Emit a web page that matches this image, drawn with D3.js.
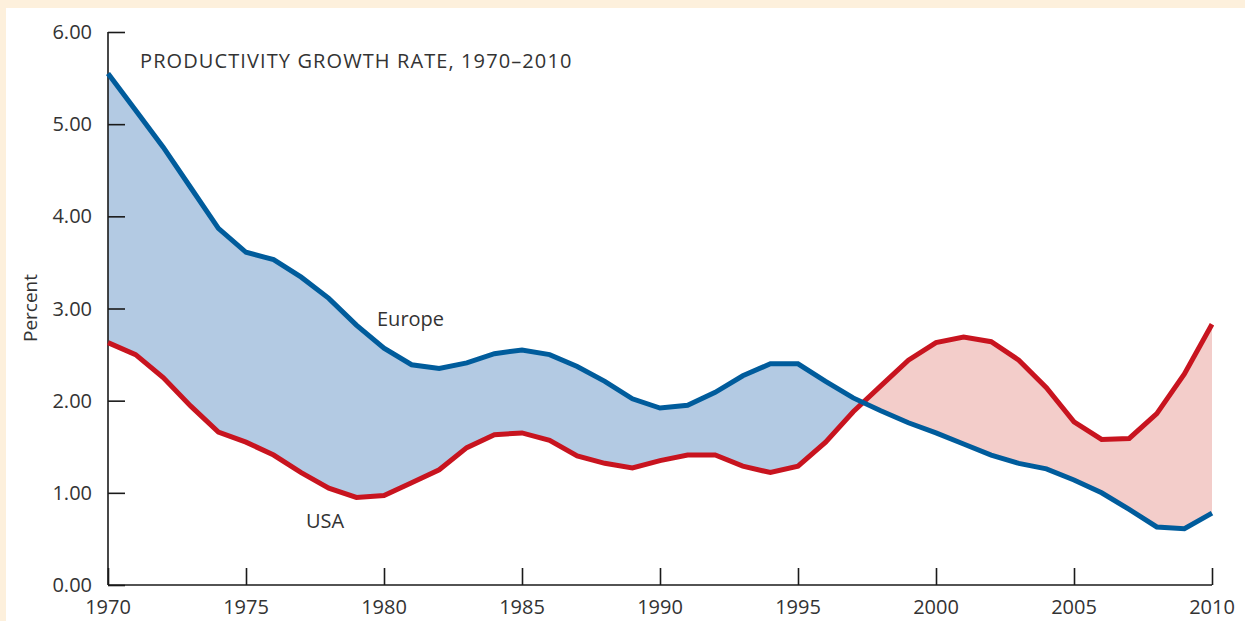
<!DOCTYPE html>
<html lang="en">
<head>
    <meta charset="UTF-8">
    <title>Productivity Growth Rate</title>
    <script src="https://d3js.org/d3.v7.min.js"></script>
    <style>
        body { margin: 0; background: #fdf0dc; }
        svg { display: block; }
        text { font-family: "Open Sans", Lato, sans-serif; font-weight: 400; fill: #333333; }
    </style>
</head>
<body>
    <script>
        // Data
        const years = d3.range(1970, 2011);
        const europe = [5.55, 5.15, 4.75, 4.31, 3.87, 3.61, 3.53, 3.34, 3.11, 2.82,
                        2.57, 2.39, 2.35, 2.41, 2.51, 2.55, 2.50, 2.37, 2.21, 2.02,
                        1.92, 1.95, 2.09, 2.27, 2.40, 2.40, 2.21, 2.03, 1.89, 1.76,
                        1.65, 1.53, 1.41, 1.32, 1.26, 1.14, 1.00, 0.82, 0.63, 0.61,
                        0.78];
        const usa = [2.63, 2.50, 2.25, 1.94, 1.66, 1.55, 1.41, 1.22, 1.05, 0.95,
                     0.97, 1.11, 1.25, 1.49, 1.63, 1.65, 1.57, 1.40, 1.32, 1.27,
                     1.35, 1.41, 1.41, 1.29, 1.22, 1.29, 1.55, 1.88, 2.16, 2.44,
                     2.63, 2.69, 2.64, 2.44, 2.14, 1.77, 1.58, 1.59, 1.86, 2.29,
                     2.83];
        const yTicks = [0, 1, 2, 3, 4, 5, 6];
        const xTicks = [1970, 1975, 1980, 1985, 1990, 1995, 2000, 2005, 2010];

        const rows = years.map((y, i) => ({ year: y, eu: europe[i], us: usa[i] }));

        const width = 1245;
        const height = 621;
        const svg = d3.select('body')
            .append('svg')
            .attr('width', width)
            .attr('height', height);

        // white panel over the cream frame
        svg.append('rect')
            .attr('x', 6).attr('y', 8)
            .attr('width', width - 6).attr('height', height - 8)
            .attr('fill', '#ffffff');

        const x = d3.scaleLinear().domain([1970, 2010]).range([108, 1212]);
        const y = d3.scaleLinear().domain([0, 6]).range([585, 32]);

        // clip regions for the difference fill
        const defs = svg.append('defs');
        defs.append('clipPath').attr('id', 'belowEu')
            .append('path')
            .attr('d', d3.area().x(d => x(d.year)).y0(y(0)).y1(d => y(d.eu))(rows));
        defs.append('clipPath').attr('id', 'belowUs')
            .append('path')
            .attr('d', d3.area().x(d => x(d.year)).y0(y(0)).y1(d => y(d.us))(rows));

        // blue where Europe is above USA
        svg.append('path')
            .attr('clip-path', 'url(#belowEu)')
            .attr('fill', '#b3cae3')
            .attr('d', d3.area().x(d => x(d.year)).y0(y(6)).y1(d => y(d.us))(rows));

        // pink where USA is above Europe
        svg.append('path')
            .attr('clip-path', 'url(#belowUs)')
            .attr('fill', '#f3cdca')
            .attr('d', d3.area().x(d => x(d.year)).y0(y(6)).y1(d => y(d.eu))(rows));

        // axes
        const yAxis = svg.append('g')
            .attr('transform', `translate(${x(1970)},0)`)
            .call(d3.axisRight(y).tickValues(yTicks).tickSize(17).tickFormat(''));
        const xAxis = svg.append('g')
            .attr('transform', `translate(0,${y(0)})`)
            .call(d3.axisTop(x).tickValues(xTicks).tickSize(17).tickFormat(''));
        [yAxis, xAxis].forEach(g => {
            g.selectAll('path, line').attr('stroke', '#1a1a1a').attr('stroke-width', 1.6);
            g.select('.domain').attr('d', g === yAxis
                ? `M0,${y(6)}V${y(0)}` : `M${x(1970)},0H${x(2010)}`);
        });

        // tick labels
        svg.selectAll('.ylab')
            .data(yTicks)
            .enter()
            .append('text')
            .attr('x', 92)
            .attr('y', d => y(d))
            .attr('dy', 7)
            .attr('text-anchor', 'end')
            .attr('font-size', 20)
            .text(d => d.toFixed(2));

        svg.selectAll('.xlab')
            .data(xTicks)
            .enter()
            .append('text')
            .attr('x', d => x(d))
            .attr('y', 614)
            .attr('text-anchor', 'middle')
            .attr('font-size', 20)
            .text(d => d);

        // lines
        const line = key => d3.line().x(d => x(d.year)).y(d => y(d[key]));
        svg.append('path')
            .attr('d', line('us')(rows))
            .attr('fill', 'none')
            .attr('stroke', '#c8141f')
            .attr('stroke-width', 5);
        svg.append('path')
            .attr('d', line('eu')(rows))
            .attr('fill', 'none')
            .attr('stroke', '#005c9c')
            .attr('stroke-width', 5);

        // labels
        svg.append('text')
            .attr('x', 140).attr('y', 68)
            .attr('font-size', 20)
            .attr('letter-spacing', 1.1)
            .text('PRODUCTIVITY GROWTH RATE, 1970–2010');
        svg.append('text')
            .attr('x', 377).attr('y', 326)
            .attr('font-size', 20)
            .text('Europe');
        svg.append('text')
            .attr('x', 306).attr('y', 528)
            .attr('font-size', 20)
            .text('USA');
        svg.append('text')
            .attr('transform', 'translate(37,308) rotate(-90)')
            .attr('text-anchor', 'middle')
            .attr('font-size', 19)
            .text('Percent');
    </script>
</body>
</html>
